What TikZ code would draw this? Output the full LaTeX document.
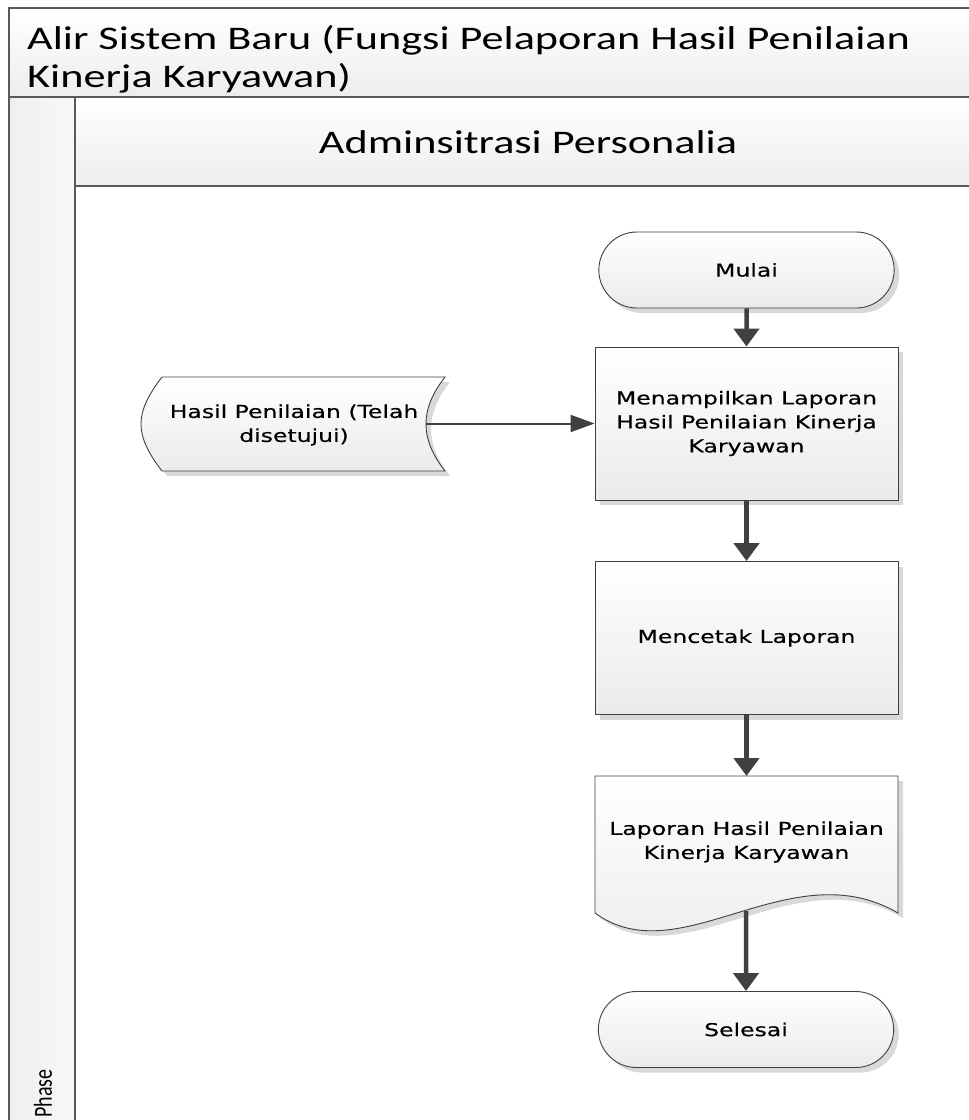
\documentclass[tikz,border=0pt]{standalone}
\usepackage{fontspec}
\setmainfont{DejaVu Sans}
\newfontfamily\headfont[FakeStretch=1.34]{Carlito}
\newfontfamily\phasefont{Carlito}
\newfontfamily\boxfont[FakeStretch=1.33,FakeBold=0.4]{DejaVu Sans}
\usetikzlibrary{shapes.misc,shadows,arrows.meta}
\definecolor{ink}{HTML}{404040}
\definecolor{rule}{HTML}{595959}
\definecolor{shadowgray}{HTML}{D9D9D9}
\begin{document}
\begin{tikzpicture}[x=1pt,y=-1pt,
  soft fill/.style={top color=white,bottom color=black!8},
  box shadow/.style={drop shadow={shadow xshift=5pt,shadow yshift=-5pt,fill=shadowgray,opacity=1}},
  boxtext/.style={font=\boxfont\fontsize{17.7}{24}\selectfont,align=center,text=black},
  process/.style={rectangle,draw=ink,line width=0.9pt,soft fill,box shadow,
    minimum width=303pt,minimum height=153pt,boxtext},
  terminal/.style={rounded rectangle,draw=ink,line width=0.9pt,soft fill,box shadow,
    minimum width=302pt,minimum height=76pt,boxtext},
  flow/.style={draw=ink,line width=4.5pt,-{Triangle[width=25pt,length=18pt]}},
  feed/.style={draw=ink,line width=2pt,-{Triangle[width=17pt,length=24pt]}},
  heading/.style={font=\headfont\fontsize{33}{38}\selectfont,inner sep=0pt,text=black}
]
\useasboundingbox (0,0) rectangle (969,1120);
\clip (0,0) rectangle (969,1120);

% pool: title band, phase column and lane header
\path[top color=white,bottom color=black!7] (9,8) rectangle (980,97);
\path[left color=black!6,right color=black!3] (9,97) rectangle (75,1130);
\path[top color=white,bottom color=black!7] (75,97) rectangle (980,186);
\draw[rule,line width=2pt] (9,1130) -- (9,8) -- (980,8);
\draw[rule,line width=2pt] (9,97) -- (980,97);
\draw[rule,line width=2.5pt] (75,1130) -- (75,97);
\draw[rule,line width=2.5pt] (75,186) -- (980,186);

\node[heading,anchor=west,align=left] (title) at (27,59)
  {Alir Sistem Baru (Fungsi Pelaporan Hasil Penilaian\\Kinerja Karyawan)};
\node[heading] (lane) at (528,142) {Adminsitrasi Personalia};
\node[rotate=90,anchor=west,inner sep=0pt,font=\phasefont\fontsize{20}{24}\selectfont]
  (phase) at (43,1118) {\scalebox{1}[1.3]{Phase}};

% flow steps
\node[terminal] (start) at (746.5,270) {Mulai};
\node[process] (show) at (746.5,423.5) {Menampilkan Laporan\\Hasil Penilaian Kinerja\\Karyawan};
\node[process] (print) at (746.5,638) {Mencetak Laporan};
\node[terminal] (stop) at (746,1029.5) {Selesai};

% stored data
\fill[shadowgray] (167,382) -- (450,382)
  .. controls (436,400) and (431,415) .. (431,429)
  .. controls (431,443) and (436,458) .. (450,476)
  -- (167,476)
  .. controls (153,458) and (146,443) .. (146,429)
  .. controls (146,415) and (153,400) .. (167,382) -- cycle;
\draw[ink,line width=0.9pt,soft fill] (162,377) -- (445,377)
  .. controls (431,395) and (426,410) .. (426,424)
  .. controls (426,438) and (431,453) .. (445,471)
  -- (162,471)
  .. controls (148,453) and (141,438) .. (141,424)
  .. controls (141,410) and (148,395) .. (162,377) -- cycle;
\node[boxtext] (data) at (294,425) {Hasil Penilaian (Telah\\disetujui)};
\coordinate (dataport) at (426,423.5);

% document
\fill[shadowgray] (600,781) -- (903,781) -- (903,918)
  .. controls (795,855) and (685,980) .. (600,918) -- cycle;
\draw[ink,line width=0.9pt,soft fill] (595,776) -- (898,776) -- (898,913)
  .. controls (790,850) and (680,975) .. (595,913) -- cycle;
\node[boxtext] (report) at (746.5,842) {Laporan Hasil Penilaian\\Kinerja Karyawan};
\coordinate (reporttop) at (746.5,776);
\coordinate (reportport) at (746,911);

% connectors
\draw[flow] (start) -- (show);
\draw[flow] (show) -- (print);
\draw[flow] (print) -- (reporttop);
\draw[flow] (reportport) -- (stop);
\draw[feed] (dataport) -- (show.west);
\end{tikzpicture}
\end{document}
